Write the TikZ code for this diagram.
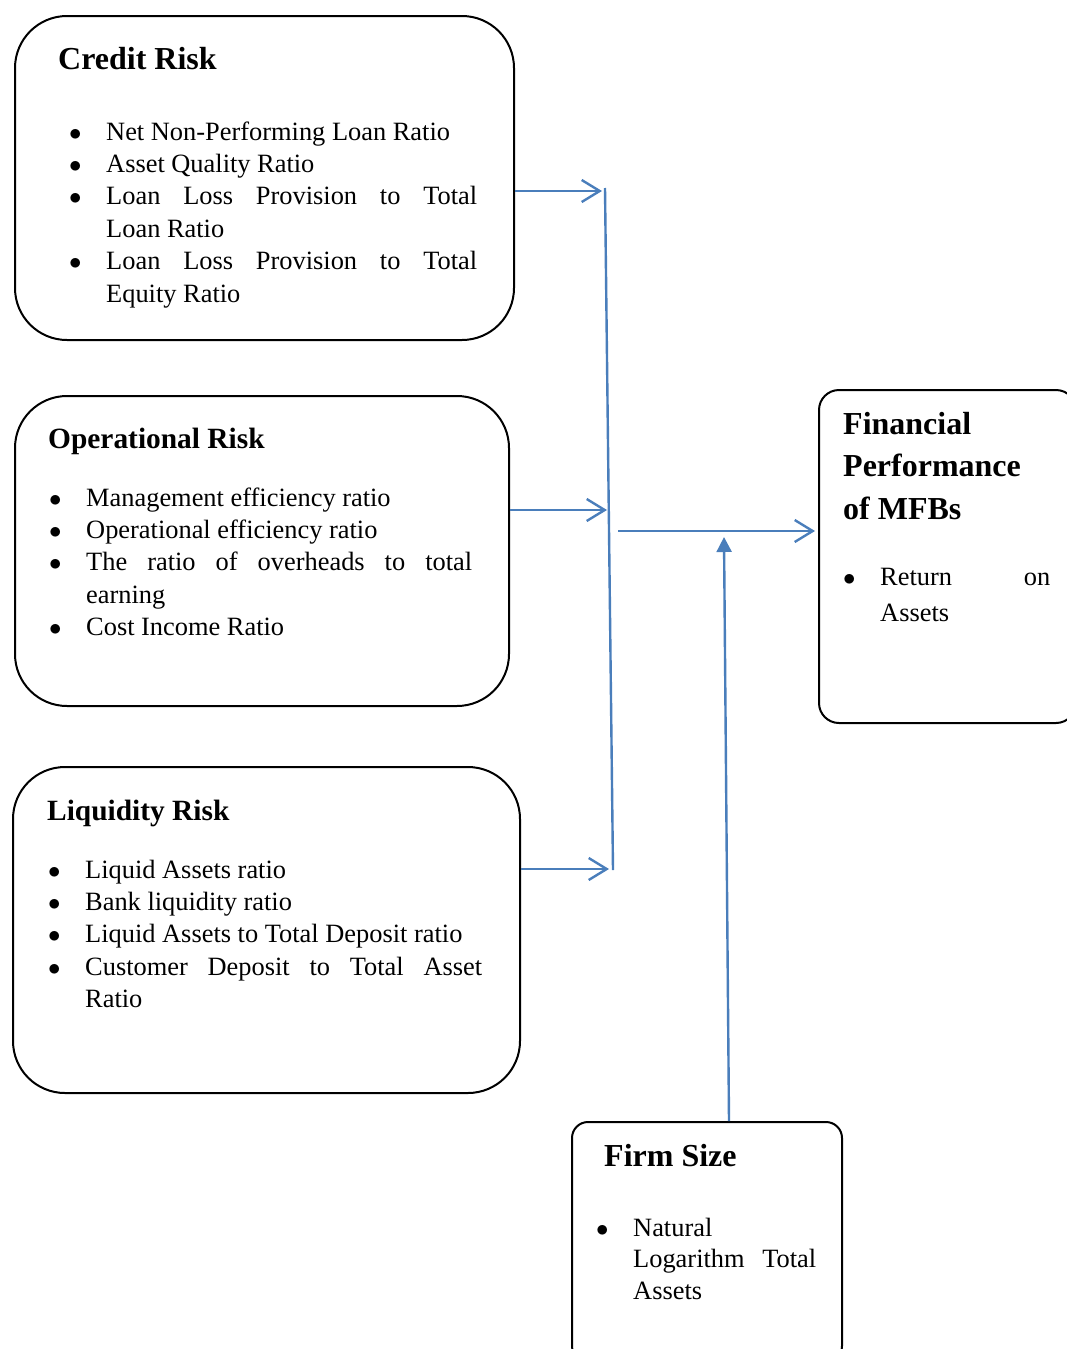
\documentclass[tikz,border=0pt]{standalone}
\usepackage{fontspec}
\setmainfont{Liberation Serif}
\usetikzlibrary{arrows.meta}

\definecolor{flowblue}{HTML}{4A7EBB}
\hyphenpenalty=10000
\tolerance=10000
\hbadness=10000

% bullet items with hanging indent
\newcommand{\riskfirst}{\noindent\hangindent=37pt\hangafter=1%
  \makebox[37pt][l]{$\bullet$}}
\newcommand{\riskitem}{\par\riskfirst}

\tikzset{
  riskbox/.style={draw, line width=2pt, rounded corners=52pt, anchor=north west, inner sep=0pt},
  head/.style={anchor=base west, inner sep=0pt, align=left,
    font=\fontsize{32}{42.5}\selectfont\bfseries},
  items/.style={anchor=base west, inner sep=0pt, align=justify,
    font=\fontsize{26.4}{32.4}\selectfont},
  bus/.style={draw=flowblue, line width=2.4pt},
  flow/.style={bus, -{Straight Barb[length=18pt,width=22pt]}},
  lift/.style={bus, -{Triangle[length=15pt,width=15pt]}},
}

\begin{document}
\begin{tikzpicture}[x=1pt, y=-1pt]
\useasboundingbox (0,0) rectangle (1067,1349);

% boxes
\node[riskbox, minimum width=499pt, minimum height=324pt] (credit) at (14,15) {};
\node[riskbox, minimum width=494pt, minimum height=310pt] (oper) at (14,395) {};
\node[riskbox, minimum width=507pt, minimum height=326pt] (liq) at (12,766) {};
\node[riskbox, rounded corners=20pt, minimum width=257pt, minimum height=333pt] (fin) at (818,389) {};
\node[riskbox, rounded corners=16pt, minimum width=270pt, minimum height=240pt] (size) at (571,1121) {};

% credit risk
\node[head] (credit-t) at (58,69) {Credit Risk};
\node[items, text width=408pt] (credit-l) at (69,140) {%
  \riskfirst Net Non-Performing Loan Ratio
  \riskitem Asset Quality Ratio
  \riskitem Loan Loss Provision to Total\linebreak Loan Ratio
  \riskitem Loan Loss Provision to Total Equity Ratio\par};

% operational risk
\node[head, font=\fontsize{29.4}{40}\selectfont\bfseries] (oper-t) at (48,448) {Operational Risk};
\node[items, text width=423pt] (oper-l) at (49,506) {%
  \riskfirst Management efficiency ratio
  \riskitem Operational efficiency ratio
  \riskitem The ratio of overheads to total earning
  \riskitem Cost Income Ratio\par};

% liquidity risk
\node[head, font=\fontsize{29.4}{40}\selectfont\bfseries] (liq-t) at (47,820) {Liquidity Risk};
\node[items, text width=434pt] (liq-l) at (48,878) {%
  \riskfirst Liquid Assets ratio
  \riskitem Bank liquidity ratio
  \riskitem Liquid Assets to Total Deposit ratio
  \riskitem Customer Deposit to Total Asset Ratio\par};

% financial performance
\node[head] (fin-t) at (843,519) {Financial\\Performance\\of MFBs};
\node[items, text width=207pt, font=\fontsize{26.4}{36}\selectfont] (fin-l) at (843,585) {%
  \riskfirst Return on Assets\par};

% firm size
\node[head] (size-t) at (604,1166) {Firm Size};
\node[items, text width=220pt, font=\fontsize{26.4}{31.5}\selectfont] (size-l) at (596,1236) {%
  \riskfirst Natural Logarithm Total Assets\par};

% connectors
\coordinate (bus-top) at (605,188);
\coordinate (bus-bot) at (613,870);
\coordinate (c-in) at (602,191);
\coordinate (o-in) at (607,510);
\coordinate (l-in) at (609,869);
\coordinate (bus-out) at (618,531);
\coordinate (fs-in) at (724,537);

\draw[flow] (credit.east |- c-in) -- (c-in);
\draw[flow] (oper.east |- o-in) -- (o-in);
\draw[flow] (liq.east |- l-in) -- (l-in);
\draw[bus] (bus-top) -- (bus-bot);
\draw[flow, shorten >=3pt] (bus-out) -- (fin.west |- bus-out);
\draw[lift] ([xshift=22pt]size.north) -- (fs-in);
\end{tikzpicture}
\end{document}
